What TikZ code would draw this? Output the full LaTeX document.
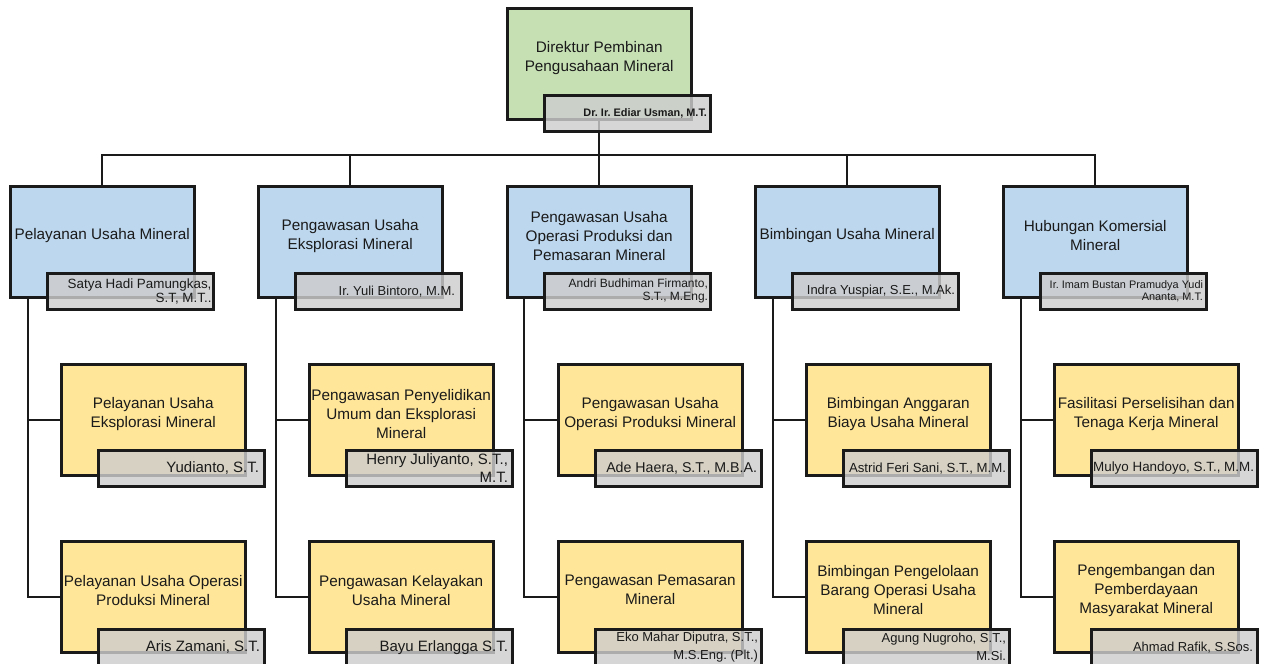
\documentclass[tikz,border=0pt]{standalone}
\usepackage{fontspec}
\setmainfont{Liberation Sans}
\frenchspacing
\definecolor{gfill}{HTML}{C6E0B4}
\definecolor{bfill}{HTML}{BDD7EE}
\definecolor{yfill}{HTML}{FFE699}
\definecolor{nfill}{HTML}{CDCDCD}
\definecolor{ink}{HTML}{1A1A1A}
\tikzset{
  box/.style={draw=ink, line width=2.6pt, minimum width=184pt, minimum height=111pt,
    anchor=north west, inner sep=0pt, outer sep=0pt},
  gbox/.style={box, fill=gfill},
  hbox/.style={box, fill=bfill},
  sbox/.style={box, fill=yfill},
  namebox/.style={draw=ink, line width=2.6pt, fill=nfill, fill opacity=0.82,
    minimum width=166pt, minimum height=36pt, inner sep=0pt,
    anchor=north west, outer sep=0pt},
  nametxt/.style={align=right, anchor=east, inner sep=0pt, text=ink},
  ttl/.style={align=center, text=ink, inner sep=0pt, font=\fontsize{15.3}{19}\selectfont},
  conn/.style={draw=ink, line width=2.4pt},
}
\newcommand{\fs}[2]{\fontsize{#1}{#2}\selectfont}
\begin{document}
\begin{tikzpicture}[x=1pt,y=-1pt]
\useasboundingbox (0,0) rectangle (1264,664);

\coordinate (bus) at (599.2,155);

% ---- boxes ----
\node[gbox] (top) at (507.2,8.2) {};
\node[hbox] (h1) at (10.2,186.2) {};
\node[hbox] (h2) at (258.2,186.2) {};
\node[hbox] (h3) at (507.2,186.2) {};
\node[hbox] (h4) at (755.2,186.2) {};
\node[hbox] (h5) at (1003.2,186.2) {};

\node[sbox] (s1a) at (61.2,364.2) {};
\node[sbox] (s1b) at (61.2,541.2) {};
\node[sbox] (s2a) at (309.2,364.2) {};
\node[sbox] (s2b) at (309.2,541.2) {};
\node[sbox] (s3a) at (558.2,364.2) {};
\node[sbox] (s3b) at (558.2,541.2) {};
\node[sbox] (s4a) at (806.2,364.2) {};
\node[sbox] (s4b) at (806.2,541.2) {};
\node[sbox] (s5a) at (1054.2,364.2) {};
\node[sbox] (s5b) at (1054.2,541.2) {};

% column lines
\coordinate (c1) at ([xshift=18pt]h1.south west);
\coordinate (c2) at ([xshift=18pt]h2.south west);
\coordinate (c3) at ([xshift=17pt]h3.south west);
\coordinate (c4) at ([xshift=18pt]h4.south west);
\coordinate (c5) at ([xshift=18pt]h5.south west);

\draw[conn] (top.south) -- (bus);
\draw[conn] (h1.north) |- (bus);
\draw[conn] (h5.north) |- (bus);
\draw[conn] (h2.north) -- (h2.north |- bus);
\draw[conn] (h4.north) -- (h4.north |- bus);
\draw[conn] (h3.north) -- (bus);

\foreach \i in {1,...,5}{
  \draw[conn] (c\i) |- (s\i b.west);
  \draw[conn] (s\i a.west) -- (s\i a.west -| c\i);
}

% ---- titles ----
\node[ttl] (ttop) at ([yshift=-49.5pt]top.north) {Direktur Pembinan\\Pengusahaan Mineral};
\node[ttl] (th1) at ([yshift=-49.5pt]h1.north) {Pelayanan Usaha Mineral};
\node[ttl] (th2) at ([yshift=-49.5pt]h2.north) {Pengawasan Usaha\\Eksplorasi Mineral};
\node[ttl] (th3) at ([yshift=-49.5pt]h3.north) {Pengawasan Usaha\\Operasi Produksi dan\\Pemasaran Mineral};
\node[ttl] (th4) at ([yshift=-49.5pt]h4.north) {Bimbingan Usaha Mineral};
\node[ttl] (th5) at ([yshift=-49.5pt]h5.north) {Hubungan Komersial\\Mineral};

\node[ttl] (ts1a) at ([yshift=-49.5pt]s1a.north) {Pelayanan Usaha\\Eksplorasi Mineral};
\node[ttl] (ts1b) at ([yshift=-49pt]s1b.north) {Pelayanan Usaha Operasi\\Produksi Mineral};
\node[ttl] (ts2a) at ([yshift=-49.5pt]s2a.north) {Pengawasan Penyelidikan\\Umum dan Eksplorasi\\Mineral};
\node[ttl] (ts2b) at ([yshift=-49pt]s2b.north) {Pengawasan Kelayakan\\Usaha Mineral};
\node[ttl] (ts3a) at ([yshift=-49.5pt]s3a.north) {Pengawasan Usaha\\Operasi Produksi Mineral};
\node[ttl] (ts3b) at ([yshift=-49pt]s3b.north) {Pengawasan Pemasaran\\Mineral};
\node[ttl] (ts4a) at ([yshift=-49.5pt]s4a.north) {Bimbingan Anggaran\\Biaya Usaha Mineral};
\node[ttl] (ts4b) at ([yshift=-49pt]s4b.north) {Bimbingan Pengelolaan\\Barang Operasi Usaha\\Mineral};
\node[ttl] (ts5a) at ([yshift=-49.5pt]s5a.north) {Fasilitasi Perselisihan dan\\Tenaga Kerja Mineral};
\node[ttl] (ts5b) at ([yshift=-49pt]s5b.north) {Pengembangan dan\\Pemberdayaan\\Masyarakat Mineral};

% ---- name boxes ----
\node[namebox] (ntop) at ([xshift=37pt,yshift=-87pt]top.north west) {};
\node[namebox] (nh1) at ([xshift=37pt,yshift=-87pt]h1.north west) {};
\node[namebox] (nh2) at ([xshift=37pt,yshift=-87pt]h2.north west) {};
\node[namebox] (nh3) at ([xshift=37pt,yshift=-87pt]h3.north west) {};
\node[namebox] (nh4) at ([xshift=37pt,yshift=-87pt]h4.north west) {};
\node[namebox] (nh5) at ([xshift=37pt,yshift=-87pt]h5.north west) {};
\node[namebox] (ns1a) at ([xshift=37pt,yshift=-86pt]s1a.north west) {};
\node[namebox] (ns1b) at ([xshift=37pt,yshift=-88pt]s1b.north west) {};
\node[namebox] (ns2a) at ([xshift=37pt,yshift=-86pt]s2a.north west) {};
\node[namebox] (ns2b) at ([xshift=37pt,yshift=-88pt]s2b.north west) {};
\node[namebox] (ns3a) at ([xshift=37pt,yshift=-86pt]s3a.north west) {};
\node[namebox] (ns3b) at ([xshift=37pt,yshift=-88pt]s3b.north west) {};
\node[namebox] (ns4a) at ([xshift=37pt,yshift=-86pt]s4a.north west) {};
\node[namebox] (ns4b) at ([xshift=37pt,yshift=-88pt]s4b.north west) {};
\node[namebox] (ns5a) at ([xshift=37pt,yshift=-86pt]s5a.north west) {};
\node[namebox] (ns5b) at ([xshift=37pt,yshift=-88pt]s5b.north west) {};

% ---- names ----
\node[nametxt, font=\bfseries\fs{10.9}{13}] (ttop2) at ([xshift=-3pt]ntop.east) {Dr. Ir. Ediar Usman, M.T.};
\node[nametxt, font=\fs{13.4}{14}] (tnh1) at ([xshift=-1.5pt]nh1.east) {Satya Hadi Pamungkas,\\S.T, M.T..};
\node[nametxt, font=\fs{13}{14}] (tnh2) at ([xshift=-6pt]nh2.east) {Ir. Yuli Bintoro, M.M.};
\node[nametxt, font=\fs{12}{13}] (tnh3) at ([xshift=-2pt]nh3.east) {Andri Budhiman Firmanto,\\S.T., M.Eng.};
\node[nametxt, font=\fs{13}{14}] (tnh4) at ([xshift=-3pt]nh4.east) {Indra Yuspiar, S.E., M.Ak.};
\node[nametxt, font=\fs{10.9}{12.5}] (tnh5) at ([xshift=-3pt]nh5.east) {Ir. Imam Bustan Pramudya Yudi\\Ananta, M.T.};

\node[nametxt, font=\fs{15}{18}] (tns1a) at ([xshift=-5pt]ns1a.east) {Yudianto, S.T.};
\node[nametxt, font=\fs{15}{18}] (tns1b) at ([xshift=-4pt]ns1b.east) {Aris Zamani, S.T.};
\node[nametxt, font=\fs{15}{18}] (tns2a) at ([xshift=-4pt]ns2a.east) {Henry Juliyanto, S.T.,\\M.T.};
\node[nametxt, font=\fs{15}{18}] (tns2b) at ([xshift=-4pt]ns2b.east) {Bayu Erlangga S.T.};
\node[nametxt, font=\fs{14.2}{18}] (tns3a) at ([xshift=-4pt]ns3a.east) {Ade Haera, S.T., M.B.A.};
\node[nametxt, font=\fs{13}{18}] (tns3b) at ([xshift=-3pt]ns3b.east) {Eko Mahar Diputra, S.T.,\\M.S.Eng. (Plt.)};
\node[nametxt, font=\fs{13.2}{18}] (tns4a) at ([xshift=-3pt]ns4a.east) {Astrid Feri Sani, S.T., M.M.};
\node[nametxt, font=\fs{13}{18}] (tns4b) at ([xshift=-3pt]ns4b.east) {Agung Nugroho, S.T.,\\M.Si.};
\node[nametxt, font=\fs{13.4}{18}] (tns5a) at ([xshift=-3pt]ns5a.east) {Mulyo Handoyo, S.T., M.M.};
\node[nametxt, font=\fs{13}{18}] (tns5b) at ([xshift=-4pt]ns5b.east) {Ahmad Rafik, S.Sos.};
\end{tikzpicture}
\end{document}
